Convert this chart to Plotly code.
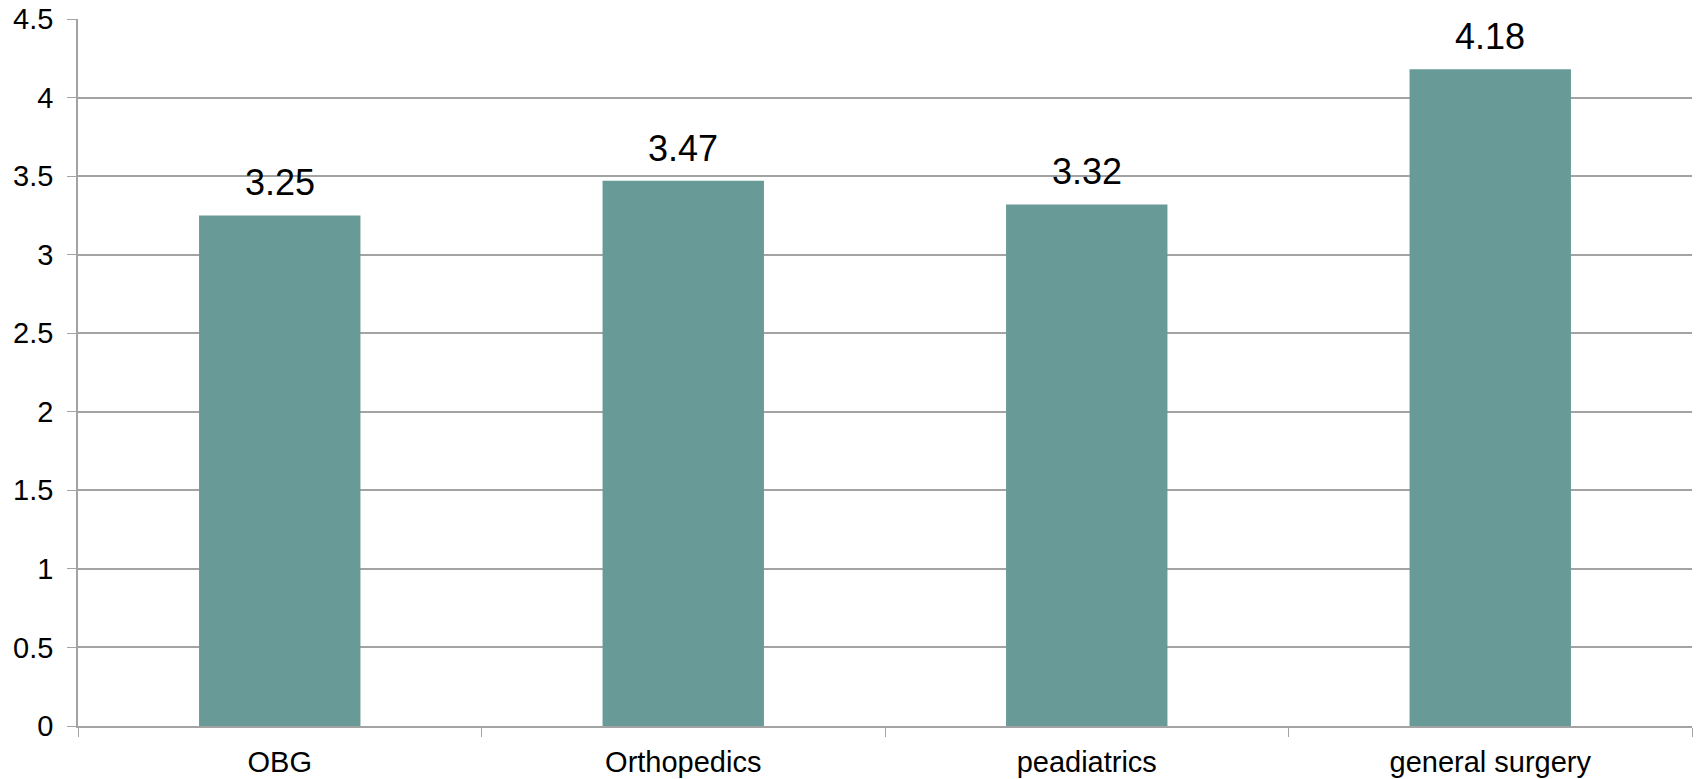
import plotly.graph_objects as go

# Mean scores by department
departments = ["OBG", "Orthopedics", "peadiatrics", "general surgery"]
scores = [3.25, 3.47, 3.32, 4.18]
y_ticks = [0, 0.5, 1, 1.5, 2, 2.5, 3, 3.5, 4, 4.5]

BAR_COLOR = "#689A98"
GRID_COLOR = "#A3A3A3"
FONT = "Liberation Sans, Arial, sans-serif"

fig = go.Figure(
    go.Bar(
        x=departments,
        y=scores,
        marker=dict(color=BAR_COLOR, line=dict(width=0)),
        width=0.4,
        hoverinfo="x+y",
    )
)

# value labels above each bar
for dept, val in zip(departments, scores):
    fig.add_annotation(
        x=dept, y=val, text=f"{val:.2f}", showarrow=False,
        yanchor="bottom", yshift=10,
        font=dict(family=FONT, size=36, color="#000000"),
    )

fig.update_layout(
    width=1698, height=779,
    margin=dict(l=78, r=6, t=19, b=53),
    plot_bgcolor="white", paper_bgcolor="white",
    showlegend=False,
    font=dict(family=FONT, color="#000000"),
)

fig.update_xaxes(
    type="category",
    tickson="boundaries",
    ticks="outside", ticklen=9, tickwidth=1.3, tickcolor=GRID_COLOR,
    showline=True, linecolor=GRID_COLOR, linewidth=1.5,
    showgrid=False,
    tickfont=dict(family=FONT, size=29, color="#000000"),
    ticklabelstandoff=9,
    range=[-0.5, 3.5],
    automargin=False,
)

fig.update_yaxes(
    range=[0, 4.5],
    tickvals=y_ticks,
    ticktext=[f"{v:g}" for v in y_ticks],
    ticks="outside", ticklen=9, tickwidth=1.3, tickcolor=GRID_COLOR,
    showline=True, linecolor=GRID_COLOR, linewidth=1.5,
    showgrid=True, gridcolor=GRID_COLOR, gridwidth=1.5,
    zeroline=False,
    tickfont=dict(family=FONT, size=29, color="#000000"),
    ticklabelstandoff=8,
    automargin=False,
)

fig.write_html("out.html")
